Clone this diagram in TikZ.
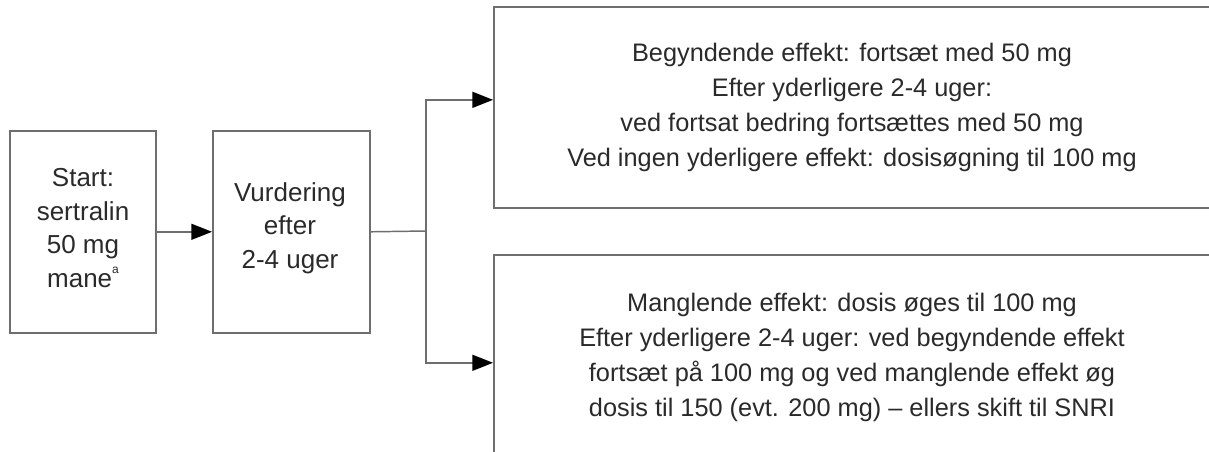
\documentclass[tikz,border=0pt]{standalone}
\usepackage{fontspec}
\setmainfont{Liberation Sans}
\usetikzlibrary{arrows.meta}
\definecolor{linegray}{HTML}{6E6E6E}
\definecolor{txtgray}{HTML}{2A2A2A}
\begin{document}
\begin{tikzpicture}[x=0.75pt,y=-0.75pt,
  box/.style={draw=linegray,line width=1.2pt,inner sep=0pt,anchor=north west},
  txt/.style={text=txtgray,align=center,font=\fontsize{19}{26.25}\selectfont},
  stxt/.style={txt,font=\fontsize{19.5}{25.2}\selectfont},
  conn/.style={draw=linegray,line width=1.1pt},
  arr/.style={conn,-{Triangle[length=15.5pt,width=12pt,color=black]}}]
\useasboundingbox (0,0) rectangle (1209,452);
\clip (0,0) rectangle (1209,452);
\fill[white] (0,0) rectangle (1209,452);
\node[box,minimum width=109.5pt,minimum height=151.5pt] (start) at (9,130) {};
\node[box,minimum width=117.75pt,minimum height=151.5pt] (vurd) at (212,130) {};
\node[box,minimum width=570pt,minimum height=150.75pt] (top) at (493,6) {};
\node[box,minimum width=570pt,minimum height=162pt] (bot) at (493,254) {};
\node[stxt] (tstart) at (83,228) {Start:\\sertralin\\50 mg\\mane\raisebox{0.55em}{\fontsize{9}{9}\selectfont a}};
\node[stxt] (tvurd) at (290,228) {Vurdering\\efter\\2-4 uger};
\node[txt] (ttop) at (852,107) {Begyndende effekt: fortsæt med 50 mg\\Efter yderligere 2-4 uger:\\ved fortsat bedring fortsættes med 50 mg\\Ved ingen yderligere effekt: dosisøgning til 100 mg};
\node[txt] (tbot) at (852,357) {Manglende effekt: dosis øges til 100 mg\\Efter yderligere 2-4 uger: ved begyndende effekt\\fortsæt på 100 mg og ved manglende effekt øg\\dosis til 150 (evt. 200 mg) – ellers skift til SNRI};
\coordinate (br) at (426,231);
\draw[arr] (start.east) -- (vurd.west);
\draw[conn] (vurd.east) -- (br);
\draw[arr] (br) |- ([yshift=5.6pt]top.west);
\draw[arr] (br) |- (bot.west);
\end{tikzpicture}
\end{document}
